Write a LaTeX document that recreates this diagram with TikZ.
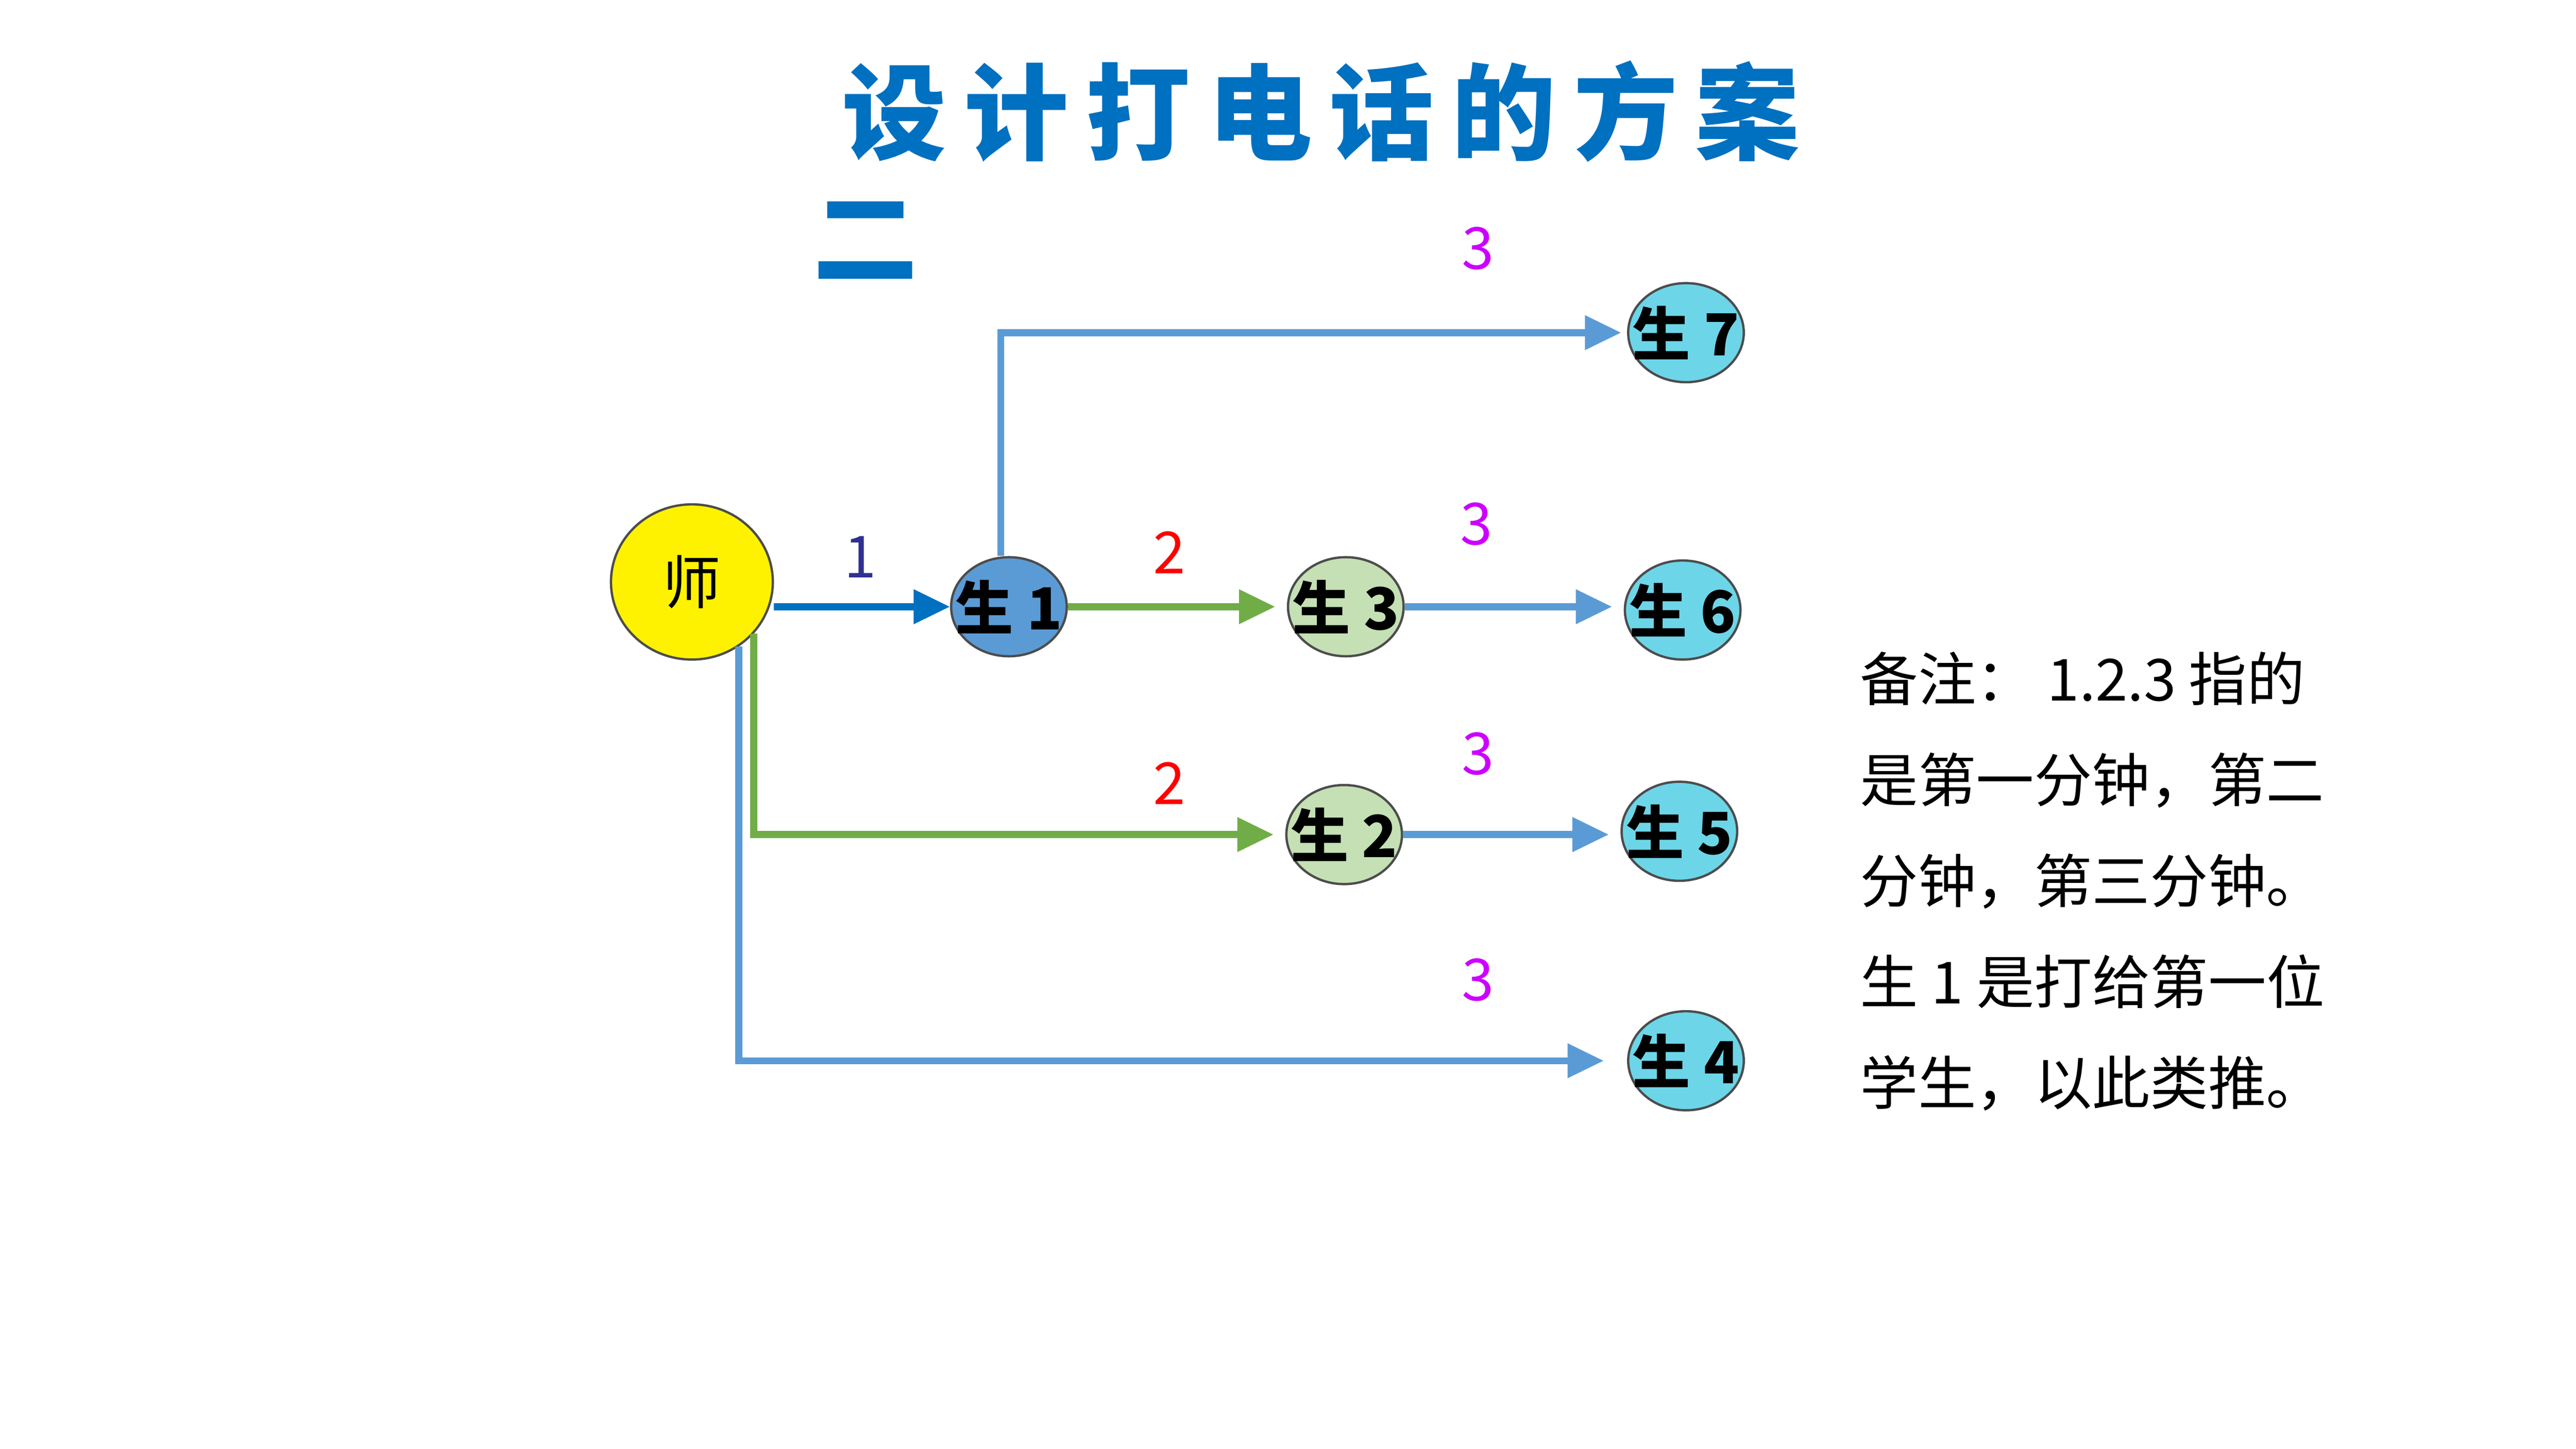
\documentclass[tikz,border=0pt]{standalone}
\usepackage{fontspec}
\setmainfont{Noto Sans CJK SC}
\usetikzlibrary{arrows.meta, positioning, shapes.geometric}
\definecolor{titleblue}{HTML}{0070C0}
\definecolor{lineblue}{HTML}{5B9BD5}
\definecolor{linegreen}{HTML}{70AD47}
\definecolor{nodecyan}{HTML}{6DD5E8}
\definecolor{nodegreen}{HTML}{C5E0B4}
\definecolor{numpurple}{HTML}{303090}
\definecolor{nummag}{HTML}{CC00FF}
\tikzset{
  stu/.style={draw=black!70, ellipse, minimum width=0.7cm, minimum height=0.6cm, inner xsep=-5pt, inner ysep=0pt, font=\fontsize{10}{10}\selectfont\bfseries},
  link/.style={-{Triangle[length=2.2mm,width=2mm]}, line width=1.2pt},
  num/.style={font=\fontsize{10}{10}\selectfont}
}
\begin{document}
\begin{tikzpicture}[x=1cm,y=1cm]
  \useasboundingbox (0,0) rectangle (15.6,8.775);

  % Title
  \node[text=titleblue, font=\fontsize{18}{18}\selectfont\bfseries] (title) at (8.0,8.10) {设\,计\,打\,电\,话\,的\,方\,案};
  \node[text=titleblue, font=\fontsize{18}{18}\selectfont\bfseries] (title2) at (5.24,7.32) {二};

  % Teacher and students
  \node[draw=black!70, ellipse, fill=yellow, minimum width=0.98cm, minimum height=0.94cm, font=\fontsize{10}{10}\selectfont] (shi) at (4.19,5.25) {师};
  \node[stu, fill=lineblue] (s1) at (6.11,5.10) {生 1};
  \node[stu, fill=nodegreen] (s3) at (8.15,5.10) {生 3};
  \node[stu, fill=nodecyan] (s6) at (10.19,5.08) {生 6};
  \node[stu, fill=nodecyan] (s7) at (10.21,6.76) {生 7};
  \node[stu, fill=nodegreen] (s2) at (8.14,3.72) {生 2};
  \node[stu, fill=nodecyan] (s5) at (10.17,3.74) {生 5};
  \node[stu, fill=nodecyan] (s4) at (10.21,2.35) {生 4};

  % Minute labels
  \node[num, text=numpurple] (m1) at (5.21,5.40) {1};
  \node[num, text=red] (m2a) at (7.08,5.43) {2};
  \node[num, text=red] (m2b) at (7.08,4.03) {2};
  \node[num, text=nummag] (m3a) at (8.95,7.27) {3};
  \node[num, text=nummag] (m3b) at (8.94,5.60) {3};
  \node[num, text=nummag] (m3c) at (8.95,4.21) {3};
  \node[num, text=nummag] (m3d) at (8.95,2.84) {3};

  % Connections
  \draw[link, titleblue] (shi.east |- s1) -- (s1.west);
  \draw[link, linegreen, shorten >=2pt] (s1) -- (s3);
  \draw[link, lineblue, shorten >=2pt] (s3.east) -- (s3 -| s6.west);
  \draw[link, lineblue, shorten >=1pt] ([xshift=-0.05cm]s1.north) |- (s7.west);
  \draw[link, linegreen, shorten >=2pt] (shi.-40) |- (s2.west);
  \draw[link, lineblue, shorten >=2pt] (s2.east) -- (s2 -| s5.west);
  \draw[link, lineblue, shorten >=4pt] (shi.-54) |- (s4.west);

  % Note
  \node[anchor=north west, align=left, font=\fontsize{10}{17.4}\selectfont] (note) at (11.14,4.95)
    {备注： 1.2.3 指的\\是第一分钟，第二\\分钟，第三分钟。\\生 1 是打给第一位\\学生，以此类推。};
\end{tikzpicture}
\end{document}
